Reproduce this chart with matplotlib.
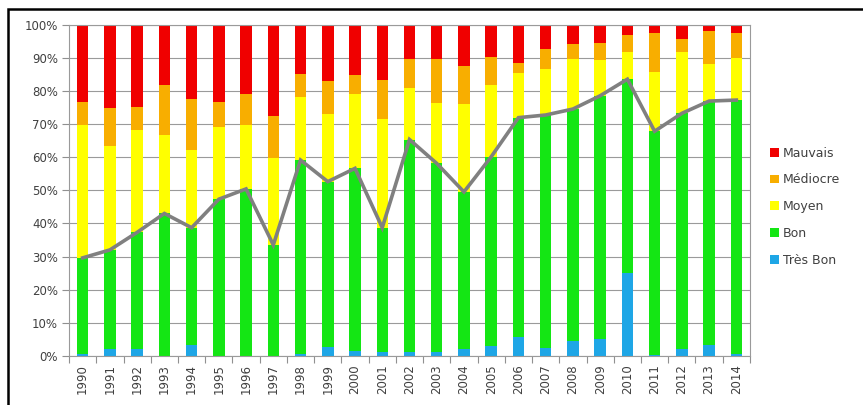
import matplotlib
matplotlib.use("Agg")
import matplotlib.pyplot as plt
from matplotlib.patches import Rectangle
import numpy as np

years = [str(y) for y in range(1990, 2015)]

# share of each quality class per year, in percent
tres_bon = [0.6, 2.0, 2.0, 0.0, 3.3, 0.0, 0.0, 0.0, 0.6, 2.8, 1.6, 1.3, 1.1,
            1.1, 2.1, 3.0, 5.8, 2.3, 4.6, 5.0, 25.1, 0.3, 2.0, 3.3, 0.6]
bon = [29.0, 30.0, 35.3, 43.0, 35.4, 47.3, 50.4, 33.5, 58.5, 49.8, 55.0, 37.4,
       64.2, 57.0, 47.4, 57.1, 66.1, 70.4, 69.9, 73.5, 58.4, 67.5, 71.2, 73.6, 76.6]
moyen = [40.0, 31.3, 30.8, 23.6, 23.3, 21.8, 19.2, 26.1, 19.1, 20.3, 22.3, 32.7,
         15.4, 18.1, 26.4, 21.6, 13.6, 14.0, 15.2, 10.9, 8.3, 17.9, 18.4, 11.1, 12.8]
mediocre = [7.0, 11.4, 7.1, 15.0, 15.4, 7.6, 9.3, 12.9, 6.8, 10.0, 5.8, 11.8,
            9.0, 13.5, 11.5, 8.6, 3.0, 5.8, 4.4, 4.9, 5.0, 11.6, 3.9, 10.0, 7.3]
mauvais = [23.4, 25.3, 24.8, 18.4, 22.6, 23.3, 21.1, 27.5, 15.0, 17.1, 15.3, 16.8,
           10.3, 10.3, 12.6, 9.7, 11.5, 7.5, 5.9, 5.7, 3.2, 2.7, 4.5, 2.0, 2.7]

series = [
    ("Très Bon", tres_bon, "#1ea6e6"),
    ("Bon", bon, "#14e614"),
    ("Moyen", moyen, "#ffff00"),
    ("Médiocre", mediocre, "#f8ae00"),
    ("Mauvais", mauvais, "#f00000"),
]

fig = plt.figure(figsize=(8.63, 4.05), dpi=100)
ax = fig.add_axes([0.080, 0.121, 0.789, 0.8185])

x = np.arange(len(years))
bottom = np.zeros(len(years))
handles = {}
for name, vals, col in series:
    vals = np.array(vals)
    handles[name] = ax.bar(x, vals, 0.42, bottom=bottom, color=col,
                           edgecolor="none", zorder=2, label=name)
    bottom += vals

# "good" share = Très Bon + Bon
good = np.array(tres_bon) + np.array(bon)
ax.plot(x, good, color="#808080", lw=2.6, zorder=3, solid_joinstyle="miter")

ax.set_xlim(-0.5, len(years) - 0.5)
ax.set_ylim(0, 100)
ax.set_yticks(np.arange(0, 101, 10))
ax.set_yticklabels([f"{v}%" for v in range(0, 101, 10)])
ax.set_xticks(x)
ax.set_xticklabels(years, rotation=90)
ax.set_xticks(np.arange(-0.5, len(years), 1.0), minor=True)
ax.tick_params(axis="x", which="major", length=0, pad=6, labelsize=8.5,
               labelcolor="#404040")
ax.tick_params(axis="x", which="minor", length=5, color="#909090", width=0.8)
ax.tick_params(axis="y", length=5, color="#909090", width=0.8, labelsize=8.5,
               labelcolor="#404040", pad=3)
ax.grid(axis="y", color="#9a9a9a", lw=0.8, zorder=0)
for s in ax.spines.values():
    s.set_color("#9a9a9a")
    s.set_linewidth(0.8)

order = ["Mauvais", "Médiocre", "Moyen", "Bon", "Très Bon"]
leg = fig.legend([handles[n] for n in order], order, loc="center left",
                 bbox_to_anchor=(0.887, 0.49), frameon=False, fontsize=9,
                 handlelength=0.7, handleheight=0.7, handletextpad=0.3,
                 labelspacing=1.1, borderaxespad=0)
for t in leg.get_texts():
    t.set_color("#404040")

# outer chart frame (only top and left edges fall inside the canvas)
fig.patches.append(Rectangle((0.0093, -0.1), 1.2, 1.0783 , transform=fig.transFigure,
                             fill=False, edgecolor="black", lw=1.8))

fig.savefig("out.png", dpi=100)
